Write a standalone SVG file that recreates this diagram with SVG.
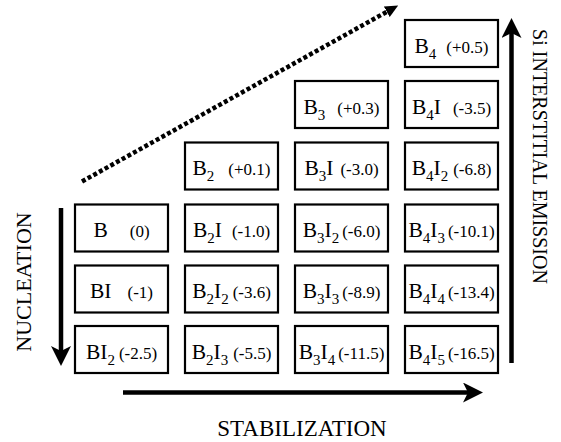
<svg xmlns="http://www.w3.org/2000/svg" width="561" height="442" viewBox="0 0 561 442">
<style>
.box{fill:#fff;stroke:#000;stroke-width:2.2}
text{font-family:"Liberation Serif","Times New Roman",serif;fill:#000}
.lbl{font-size:21.5px;text-anchor:middle}
.sub{font-size:15px}
.num{font-size:17px}
.axis{font-size:21px;text-anchor:middle}
.arr{stroke:#000;stroke-width:4.5;fill:none;marker-end:url(#head)}
.dot{stroke:#000;stroke-width:4.5;fill:none;stroke-dasharray:4 2.5;marker-end:url(#thead)}
</style>
<defs>
<marker id="head" markerUnits="userSpaceOnUse" viewBox="0 0 20 20" markerWidth="20" markerHeight="20" refX="6" refY="10" orient="auto">
<path d="M0,0 L20,10 L0,20 L5,10 z" fill="#000"/>
</marker>
<marker id="thead" markerUnits="userSpaceOnUse" viewBox="0 0 13 12" markerWidth="13" markerHeight="12" refX="0" refY="6" orient="auto">
<path d="M0,0 L13,6 L0,12 z" fill="#000"/>
</marker>
</defs>

<g id="connectors">
<line class="arr" x1="61" y1="208" x2="61" y2="352"/>
<line class="arr" x1="123" y1="392.5" x2="469" y2="392.5"/>
<line class="arr" x1="511.5" y1="363" x2="511.5" y2="32"/>
<line class="dot" x1="82" y1="181.5" x2="386.8" y2="11.8"/>
</g>

<g id="n-B4"><rect class="box" x="405" y="20" width="93" height="47"/>
<text class="lbl" x="451.5" y="52.5">B<tspan class="sub" dy="6">4</tspan><tspan class="num" dx="10" dy="-6">(+0.5)</tspan></text></g>

<g id="n-B3"><rect class="box" x="295" y="81" width="93" height="47"/>
<text class="lbl" x="341.5" y="113.5">B<tspan class="sub" dy="6">3</tspan><tspan class="num" dx="12" dy="-6">(+0.3)</tspan></text></g>
<g id="n-B4I"><rect class="box" x="405" y="81" width="93" height="47"/>
<text class="lbl" x="451.5" y="113.5">B<tspan class="sub" dy="6">4</tspan><tspan dy="-6">I</tspan><tspan class="num" dx="12">(-3.5)</tspan></text></g>

<g id="n-B2"><rect class="box" x="185" y="142.5" width="93" height="47"/>
<text class="lbl" x="231.5" y="175">B<tspan class="sub" dy="6">2</tspan><tspan class="num" dx="14" dy="-6">(+0.1)</tspan></text></g>
<g id="n-B3I"><rect class="box" x="295" y="142.5" width="93" height="47"/>
<text class="lbl" x="341.5" y="175">B<tspan class="sub" dy="6">3</tspan><tspan dy="-6">I</tspan><tspan class="num" dx="7">(-3.0)</tspan></text></g>
<g id="n-B4I2"><rect class="box" x="405" y="142.5" width="93" height="47"/>
<text class="lbl" x="451.5" y="175">B<tspan class="sub" dy="6">4</tspan><tspan dy="-6">I</tspan><tspan class="sub" dy="6">2</tspan><tspan class="num" dx="5" dy="-6">(-6.8)</tspan></text></g>

<g id="n-B"><rect class="box" x="75" y="204.5" width="93" height="47"/>
<text class="lbl" x="121.5" y="237">B<tspan class="num" dx="22">(0)</tspan></text></g>
<g id="n-B2I"><rect class="box" x="185" y="204.5" width="93" height="47"/>
<text class="lbl" x="231.5" y="237">B<tspan class="sub" dy="6">2</tspan><tspan dy="-6">I</tspan><tspan class="num" dx="10">(-1.0)</tspan></text></g>
<g id="n-B3I2"><rect class="box" x="295" y="204.5" width="93" height="47"/>
<text class="lbl" x="341.5" y="237">B<tspan class="sub" dy="6">3</tspan><tspan dy="-6">I</tspan><tspan class="sub" dy="6">2</tspan><tspan class="num" dx="3" dy="-6">(-6.0)</tspan></text></g>
<g id="n-B4I3"><rect class="box" x="405" y="204.5" width="93" height="47"/>
<text class="lbl" x="451.5" y="237">B<tspan class="sub" dy="6">4</tspan><tspan dy="-6">I</tspan><tspan class="sub" dy="6">3</tspan><tspan class="num" dx="3" dy="-6">(-10.1)</tspan></text></g>

<g id="n-BI"><rect class="box" x="75" y="265.5" width="93" height="47"/>
<text class="lbl" x="121.5" y="298">BI<tspan class="num" dx="16">(-1)</tspan></text></g>
<g id="n-B2I2"><rect class="box" x="185" y="265.5" width="93" height="47"/>
<text class="lbl" x="231.5" y="298">B<tspan class="sub" dy="6">2</tspan><tspan dy="-6">I</tspan><tspan class="sub" dy="6">2</tspan><tspan class="num" dx="4" dy="-6">(-3.6)</tspan></text></g>
<g id="n-B3I3"><rect class="box" x="295" y="265.5" width="93" height="47"/>
<text class="lbl" x="341.5" y="298">B<tspan class="sub" dy="6">3</tspan><tspan dy="-6">I</tspan><tspan class="sub" dy="6">3</tspan><tspan class="num" dx="3" dy="-6">(-8.9)</tspan></text></g>
<g id="n-B4I4"><rect class="box" x="405" y="265.5" width="93" height="47"/>
<text class="lbl" x="451.5" y="298">B<tspan class="sub" dy="6">4</tspan><tspan dy="-6">I</tspan><tspan class="sub" dy="6">4</tspan><tspan class="num" dx="3" dy="-6">(-13.4)</tspan></text></g>

<g id="n-BI2"><rect class="box" x="75" y="326" width="93" height="47"/>
<text class="lbl" x="121.5" y="358.5">BI<tspan class="sub" dy="6">2</tspan><tspan class="num" dx="4" dy="-6">(-2.5)</tspan></text></g>
<g id="n-B2I3"><rect class="box" x="185" y="326" width="93" height="47"/>
<text class="lbl" x="231.5" y="358.5">B<tspan class="sub" dy="6">2</tspan><tspan dy="-6">I</tspan><tspan class="sub" dy="6">3</tspan><tspan class="num" dx="5" dy="-6">(-5.5)</tspan></text></g>
<g id="n-B3I4"><rect class="box" x="295" y="326" width="93" height="47"/>
<text class="lbl" x="341.5" y="358.5">B<tspan class="sub" dy="6">3</tspan><tspan dy="-6">I</tspan><tspan class="sub" dy="6">4</tspan><tspan class="num" dx="3" dy="-6">(-11.5)</tspan></text></g>
<g id="n-B4I5"><rect class="box" x="405" y="326" width="93" height="47"/>
<text class="lbl" x="451.5" y="358.5">B<tspan class="sub" dy="6">4</tspan><tspan dy="-6">I</tspan><tspan class="sub" dy="6">5</tspan><tspan class="num" dx="3" dy="-6">(-16.5)</tspan></text></g>

<g id="labels">
<text class="axis" transform="translate(31,282) rotate(-90)" style="font-size:22px">NUCLEATION</text>
<text class="axis" x="302" y="436" style="font-size:23px">STABILIZATION</text>
<text class="axis" transform="translate(533,156.5) rotate(90)" style="font-size:20px">Si INTERSTITIAL EMISSION</text>
</g>
</svg>
